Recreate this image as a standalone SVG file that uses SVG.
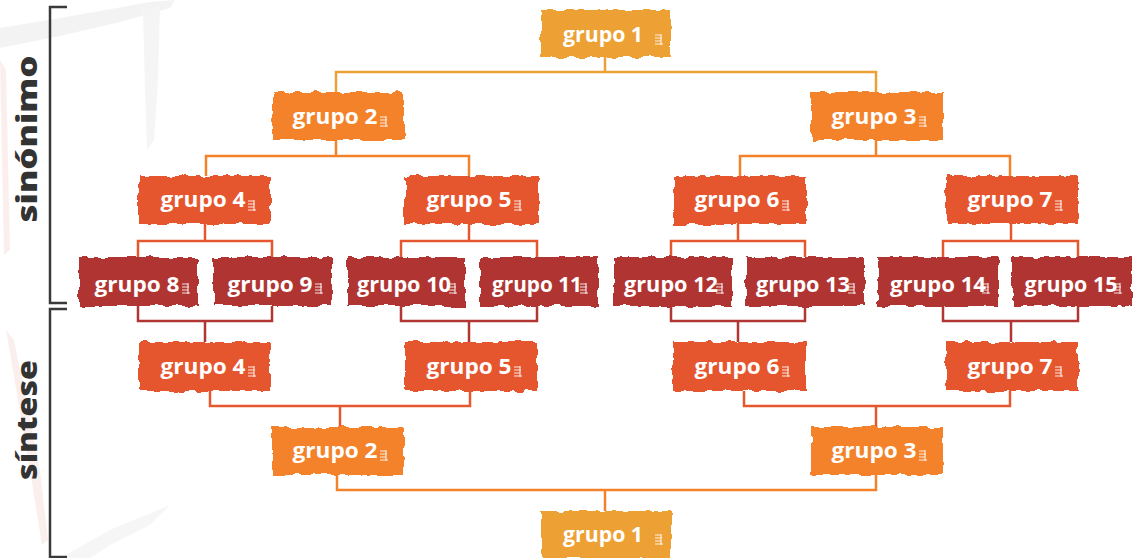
<svg xmlns="http://www.w3.org/2000/svg" width="1135" height="558" viewBox="0 0 1135 558">
<style>
.t{font-family:"Open Sans","DejaVu Sans",sans-serif;font-weight:700;font-size:20.5px;fill:#fff;text-anchor:middle}
.side{font-family:"Open Sans","DejaVu Sans",sans-serif;font-weight:800;font-size:29px;fill:#333;text-anchor:middle}
.c1{fill:#EDA135}.c2{fill:#F4822A}.c3{fill:#E5572F}.c4{fill:#B03533}
.l{fill:none;stroke-width:2.5}
.l1{stroke:#EDA135}.l2{stroke:#F4822A}.l3{stroke:#E5572F}.l4{stroke:#B03533}
.br{fill:none;stroke:#3a3a3a;stroke-width:2.5}
.m{fill:none;stroke:#fff;stroke-width:1.2;opacity:.85}
</style>
<defs>
<filter id="rough" x="-10%" y="-20%" width="120%" height="140%">
<feTurbulence type="fractalNoise" baseFrequency="0.09" numOctaves="2" seed="3" result="n"/>
<feDisplacementMap in="SourceGraphic" in2="n" scale="7" xChannelSelector="R" yChannelSelector="G"/>
</filter>
<path id="mk" d="M0 -4h6M0 -1h7M0 2h6M0 5h8M6 -5v11"/>
</defs>
<g id="background" opacity="0.45">
<path d="M0 28 L60 18 L150 2 L175 0 L170 8 L120 22 L60 36 L0 48 Z" fill="#e6e6e6"/>
<path d="M143 10 L160 6 L158 80 L154 140 L147 150 L145 90 Z" fill="#e9e9e9"/>
<path d="M60 558 L110 530 L170 505 L150 525 L110 545 L90 558 Z" fill="#ececec"/>
<path d="M6 330 L14 340 L40 470 L48 540 L42 545 L30 470 Z" fill="#f6dcd8"/>
<path d="M0 60 L6 70 L10 250 L4 255 Z" fill="#f6dcd8"/>
</g>
<g id="brackets">
<path class="br" d="M67 7 H50 V303 H67"/>
<path class="br" d="M67 309 H50 V557 H67"/>
<text class="side" transform="translate(37,139) rotate(-90)" textLength="167" lengthAdjust="spacingAndGlyphs">sinónimo</text>
<text class="side" transform="translate(37,420) rotate(-90)" textLength="120" lengthAdjust="spacingAndGlyphs">síntese</text>
</g>
<g id="connectors">
<path class="l l1" d="M605 57 V72 M336 92 V72 H876 V92"/>
<path class="l l2" d="M336 140 V156 M206 176 V156 H469 V176"/>
<path class="l l2" d="M876 140 V156 M740 176 V156 H1010 V176"/>
<path class="l l3" d="M205 224 V241 M138 257 V241 H272 V257"/>
<path class="l l3" d="M469 224 V241 M401 257 V241 H537 V257"/>
<path class="l l3" d="M738 224 V241 M671 257 V241 H805 V257"/>
<path class="l l3" d="M1011 224 V241 M943 257 V241 H1078 V257"/>
<path class="l l4" d="M138 306 V321 H272 V306 M205 321 V342"/>
<path class="l l4" d="M401 306 V321 H537 V306 M469 321 V342"/>
<path class="l l4" d="M671 306 V321 H805 V306 M738 321 V342"/>
<path class="l l4" d="M943 306 V321 H1078 V306 M1011 321 V342"/>
<path class="l l3" d="M210 391 V406 H470 V391 M340 406 V427"/>
<path class="l l3" d="M744 391 V406 H1010 V391 M876 406 V427"/>
<path class="l l2" d="M337 475 V490 H876 V475 M605 490 V511"/>
</g>
<g id="n1"><rect class="c1" x="541" y="10" width="130" height="47" filter="url(#rough)"/><text class="t" x="603" y="42" textLength="80" lengthAdjust="spacingAndGlyphs">grupo 1</text><use href="#mk" x="655" y="39" class="m"/></g>
<g id="n2"><rect class="c2" x="272" y="92" width="132" height="48" filter="url(#rough)"/><text class="t" x="335" y="124" textLength="85" lengthAdjust="spacingAndGlyphs">grupo 2</text><use href="#mk" x="380" y="121" class="m"/></g>
<g id="n3"><rect class="c2" x="811" y="92" width="132" height="48" filter="url(#rough)"/><text class="t" x="874" y="124" textLength="85" lengthAdjust="spacingAndGlyphs">grupo 3</text><use href="#mk" x="919" y="121" class="m"/></g>
<g id="n4"><rect class="c3" x="139" y="176" width="131" height="48" filter="url(#rough)"/><text class="t" x="203" y="207" textLength="85" lengthAdjust="spacingAndGlyphs">grupo 4</text><use href="#mk" x="248" y="205" class="m"/></g>
<g id="n5"><rect class="c3" x="405" y="176" width="133" height="48" filter="url(#rough)"/><text class="t" x="469" y="207" textLength="85" lengthAdjust="spacingAndGlyphs">grupo 5</text><use href="#mk" x="514" y="205" class="m"/></g>
<g id="n6"><rect class="c3" x="673" y="176" width="133" height="48" filter="url(#rough)"/><text class="t" x="737" y="207" textLength="85" lengthAdjust="spacingAndGlyphs">grupo 6</text><use href="#mk" x="782" y="205" class="m"/></g>
<g id="n7"><rect class="c3" x="946" y="176" width="132" height="48" filter="url(#rough)"/><text class="t" x="1010" y="207" textLength="85" lengthAdjust="spacingAndGlyphs">grupo 7</text><use href="#mk" x="1055" y="205" class="m"/></g>
<g id="n8"><rect class="c4" x="79" y="257" width="119" height="49" filter="url(#rough)"/><text class="t" x="137" y="292" textLength="85" lengthAdjust="spacingAndGlyphs">grupo 8</text><use href="#mk" x="182" y="288" class="m"/></g>
<g id="n9"><rect class="c4" x="213" y="257" width="119" height="49" filter="url(#rough)"/><text class="t" x="270" y="292" textLength="85" lengthAdjust="spacingAndGlyphs">grupo 9</text><use href="#mk" x="315" y="288" class="m"/></g>
<g id="n10"><rect class="c4" x="347" y="257" width="118" height="49" filter="url(#rough)"/><text class="t" x="404" y="292" textLength="94" lengthAdjust="spacingAndGlyphs">grupo 10</text><use href="#mk" x="449" y="288" class="m"/></g>
<g id="n11"><rect class="c4" x="480" y="257" width="118" height="49" filter="url(#rough)"/><text class="t" x="537" y="292" textLength="90" lengthAdjust="spacingAndGlyphs">grupo 11</text><use href="#mk" x="580" y="288" class="m"/></g>
<g id="n12"><rect class="c4" x="614" y="257" width="118" height="49" filter="url(#rough)"/><text class="t" x="671" y="292" textLength="94" lengthAdjust="spacingAndGlyphs">grupo 12</text><use href="#mk" x="716" y="288" class="m"/></g>
<g id="n13"><rect class="c4" x="746" y="257" width="118" height="49" filter="url(#rough)"/><text class="t" x="803" y="292" textLength="94" lengthAdjust="spacingAndGlyphs">grupo 13</text><use href="#mk" x="848" y="288" class="m"/></g>
<g id="n14"><rect class="c4" x="878" y="257" width="120" height="49" filter="url(#rough)"/><text class="t" x="938" y="292" textLength="96" lengthAdjust="spacingAndGlyphs">grupo 14</text><use href="#mk" x="982" y="288" class="m"/></g>
<g id="n15"><rect class="c4" x="1012" y="257" width="120" height="49" filter="url(#rough)"/><text class="t" x="1071" y="292" textLength="93" lengthAdjust="spacingAndGlyphs">grupo 15</text><use href="#mk" x="1114" y="288" class="m"/></g>
<g id="n4b"><rect class="c3" x="139" y="342" width="131" height="49" filter="url(#rough)"/><text class="t" x="203" y="374" textLength="85" lengthAdjust="spacingAndGlyphs">grupo 4</text><use href="#mk" x="248" y="371" class="m"/></g>
<g id="n5b"><rect class="c3" x="405" y="342" width="133" height="49" filter="url(#rough)"/><text class="t" x="469" y="374" textLength="85" lengthAdjust="spacingAndGlyphs">grupo 5</text><use href="#mk" x="514" y="371" class="m"/></g>
<g id="n6b"><rect class="c3" x="673" y="342" width="133" height="49" filter="url(#rough)"/><text class="t" x="737" y="374" textLength="85" lengthAdjust="spacingAndGlyphs">grupo 6</text><use href="#mk" x="782" y="371" class="m"/></g>
<g id="n7b"><rect class="c3" x="946" y="342" width="132" height="49" filter="url(#rough)"/><text class="t" x="1010" y="374" textLength="85" lengthAdjust="spacingAndGlyphs">grupo 7</text><use href="#mk" x="1055" y="371" class="m"/></g>
<g id="n2b"><rect class="c2" x="272" y="427" width="132" height="48" filter="url(#rough)"/><text class="t" x="335" y="458" textLength="85" lengthAdjust="spacingAndGlyphs">grupo 2</text><use href="#mk" x="380" y="455" class="m"/></g>
<g id="n3b"><rect class="c2" x="811" y="427" width="132" height="48" filter="url(#rough)"/><text class="t" x="874" y="458" textLength="85" lengthAdjust="spacingAndGlyphs">grupo 3</text><use href="#mk" x="919" y="455" class="m"/></g>
<g id="n1b"><rect class="c1" x="541" y="511" width="130" height="47" filter="url(#rough)"/><text class="t" x="603" y="542" textLength="80" lengthAdjust="spacingAndGlyphs">grupo 1</text><use href="#mk" x="655" y="539" class="m"/></g>
</svg>
